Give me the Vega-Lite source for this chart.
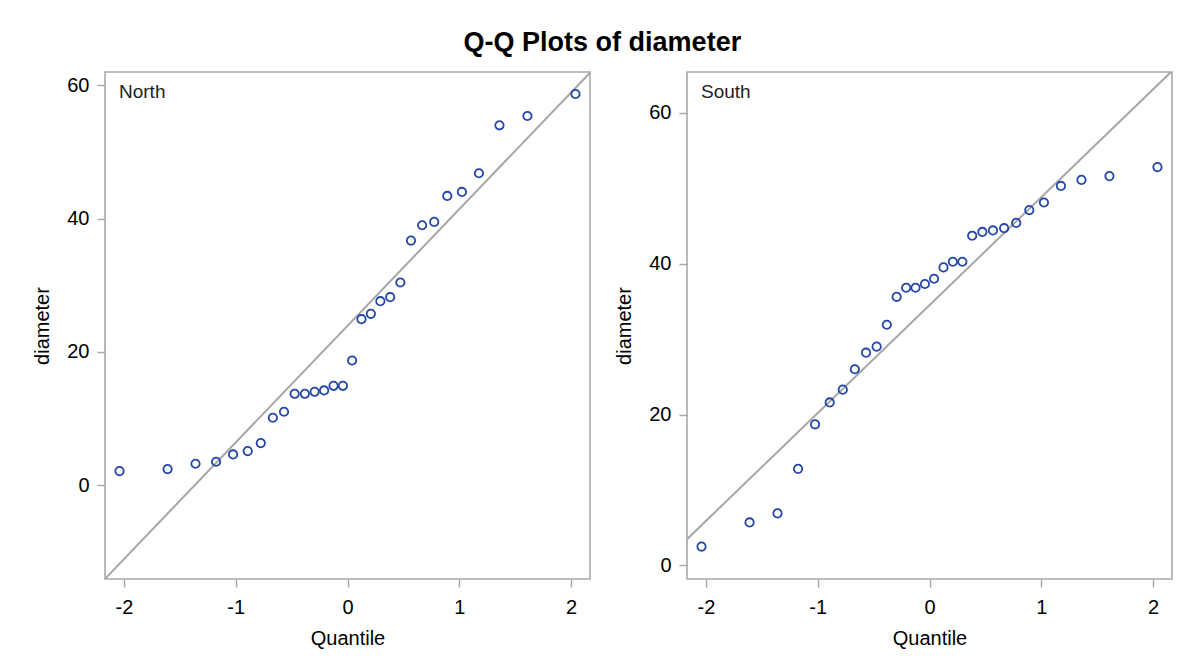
{
  "$schema": "https://vega.github.io/schema/vega-lite/v6.json",
  "padding": {"left": 31, "top": 29, "right": 5, "bottom": 5},
  "background": "white",
  "title": {"text": "Q-Q Plots of diameter", "fontSize": 27, "font": "Liberation Sans", "fontWeight": "bold", "color": "#000000", "anchor": "middle", "offset": 14},
  "datasets": {
    "qq": [
      {"region": "North", "quantile": 2.040, "diameter": 58.7},
      {"region": "North", "quantile": 1.610, "diameter": 55.4},
      {"region": "North", "quantile": 1.360, "diameter": 54.0},
      {"region": "North", "quantile": 1.176, "diameter": 46.8},
      {"region": "North", "quantile": 1.024, "diameter": 44.0},
      {"region": "North", "quantile": 0.893, "diameter": 43.4},
      {"region": "North", "quantile": 0.776, "diameter": 39.5},
      {"region": "North", "quantile": 0.668, "diameter": 39.0},
      {"region": "North", "quantile": 0.568, "diameter": 36.7},
      {"region": "North", "quantile": 0.473, "diameter": 30.4},
      {"region": "North", "quantile": 0.382, "diameter": 28.2},
      {"region": "North", "quantile": 0.294, "diameter": 27.6},
      {"region": "North", "quantile": 0.209, "diameter": 25.7},
      {"region": "North", "quantile": 0.125, "diameter": 24.9},
      {"region": "North", "quantile": 0.041, "diameter": 18.7},
      {"region": "North", "quantile": -0.041, "diameter": 14.9},
      {"region": "North", "quantile": -0.125, "diameter": 14.9},
      {"region": "North", "quantile": -0.209, "diameter": 14.2},
      {"region": "North", "quantile": -0.294, "diameter": 14.0},
      {"region": "North", "quantile": -0.382, "diameter": 13.7},
      {"region": "North", "quantile": -0.473, "diameter": 13.7},
      {"region": "North", "quantile": -0.568, "diameter": 11.0},
      {"region": "North", "quantile": -0.668, "diameter": 10.1},
      {"region": "North", "quantile": -0.776, "diameter": 6.3},
      {"region": "North", "quantile": -0.893, "diameter": 5.1},
      {"region": "North", "quantile": -1.024, "diameter": 4.6},
      {"region": "North", "quantile": -1.176, "diameter": 3.5},
      {"region": "North", "quantile": -1.360, "diameter": 3.2},
      {"region": "North", "quantile": -1.610, "diameter": 2.4},
      {"region": "North", "quantile": -2.040, "diameter": 2.1},
      {"region": "South", "quantile": 2.040, "diameter": 52.8},
      {"region": "South", "quantile": 1.610, "diameter": 51.6},
      {"region": "South", "quantile": 1.360, "diameter": 51.1},
      {"region": "South", "quantile": 1.176, "diameter": 50.3},
      {"region": "South", "quantile": 1.024, "diameter": 48.1},
      {"region": "South", "quantile": 0.893, "diameter": 47.1},
      {"region": "South", "quantile": 0.776, "diameter": 45.4},
      {"region": "South", "quantile": 0.668, "diameter": 44.7},
      {"region": "South", "quantile": 0.568, "diameter": 44.4},
      {"region": "South", "quantile": 0.473, "diameter": 44.2},
      {"region": "South", "quantile": 0.382, "diameter": 43.7},
      {"region": "South", "quantile": 0.294, "diameter": 40.25},
      {"region": "South", "quantile": 0.209, "diameter": 40.25},
      {"region": "South", "quantile": 0.125, "diameter": 39.5},
      {"region": "South", "quantile": 0.041, "diameter": 38.0},
      {"region": "South", "quantile": -0.041, "diameter": 37.3},
      {"region": "South", "quantile": -0.125, "diameter": 36.8},
      {"region": "South", "quantile": -0.209, "diameter": 36.8},
      {"region": "South", "quantile": -0.294, "diameter": 35.6},
      {"region": "South", "quantile": -0.382, "diameter": 31.9},
      {"region": "South", "quantile": -0.473, "diameter": 29.0},
      {"region": "South", "quantile": -0.568, "diameter": 28.2},
      {"region": "South", "quantile": -0.668, "diameter": 26.0},
      {"region": "South", "quantile": -0.776, "diameter": 23.3},
      {"region": "South", "quantile": -0.893, "diameter": 21.6},
      {"region": "South", "quantile": -1.024, "diameter": 18.7},
      {"region": "South", "quantile": -1.176, "diameter": 12.8},
      {"region": "South", "quantile": -1.360, "diameter": 6.9},
      {"region": "South", "quantile": -1.610, "diameter": 5.7},
      {"region": "South", "quantile": -2.040, "diameter": 2.5}
    ],
    "ref": [
      {"region": "North", "quantile": -2.17, "diameter": -14.08},
      {"region": "North", "quantile": 2.17, "diameter": 61.88},
      {"region": "South", "quantile": -2.17, "diameter": 3.47},
      {"region": "South", "quantile": 2.17, "diameter": 65.53}
    ]
  },
  "spacing": 22,
  "hconcat": [
    {
      "width": 485,
      "height": 507,
      "layer": [
        {
          "data": {"name": "ref"},
          "transform": [{"filter": "datum.region === 'North'"}],
          "mark": {"type": "line", "color": "#a6a6a6", "strokeWidth": 2, "clip": true},
          "encoding": {
            "x": {"field": "quantile", "type": "quantitative"},
            "y": {"field": "diameter", "type": "quantitative"}
          }
        },
        {
          "data": {"name": "qq"},
          "transform": [{"filter": "datum.region === 'North'"}],
          "mark": {"type": "point", "shape": "circle", "filled": false, "color": "#2346a8", "strokeWidth": 1.8, "size": 70, "opacity": 1},
          "encoding": {
            "x": {"field": "quantile", "type": "quantitative", "title": "Quantile", "scale": {"domain": [-2.17, 2.17], "nice": false, "zero": false}, "axis": {"values": [-2, -1, 0, 1, 2], "labelExpr": "datum.value < 0 ? '-' + abs(datum.value) : '' + datum.value", "labelPadding": 10, "titlePadding": 11}},
            "y": {"field": "diameter", "type": "quantitative", "title": "diameter", "scale": {"domain": [-14.1, 62.0], "nice": false, "zero": false}, "axis": {"values": [0, 20, 40, 60], "titlePadding": 14}}
          }
        },
        {
          "data": {"values": [{"label": "North"}]},
          "mark": {"type": "text", "align": "left", "baseline": "top", "dx": 14, "dy": 11, "fontSize": 19, "font": "Liberation Sans", "color": "#222222"},
          "encoding": {
            "x": {"datum": -2.17, "type": "quantitative"},
            "y": {"datum": 62.0, "type": "quantitative"},
            "text": {"field": "label"}
          }
        }
      ]
    },
    {
      "width": 485,
      "height": 507,
      "layer": [
        {
          "data": {"name": "ref"},
          "transform": [{"filter": "datum.region === 'South'"}],
          "mark": {"type": "line", "color": "#a6a6a6", "strokeWidth": 2, "clip": true},
          "encoding": {
            "x": {"field": "quantile", "type": "quantitative"},
            "y": {"field": "diameter", "type": "quantitative"}
          }
        },
        {
          "data": {"name": "qq"},
          "transform": [{"filter": "datum.region === 'South'"}],
          "mark": {"type": "point", "shape": "circle", "filled": false, "color": "#2346a8", "strokeWidth": 1.8, "size": 70, "opacity": 1},
          "encoding": {
            "x": {"field": "quantile", "type": "quantitative", "title": "Quantile", "scale": {"domain": [-2.17, 2.17], "nice": false, "zero": false}, "axis": {"values": [-2, -1, 0, 1, 2], "labelExpr": "datum.value < 0 ? '-' + abs(datum.value) : '' + datum.value", "labelPadding": 10, "titlePadding": 11}},
            "y": {"field": "diameter", "type": "quantitative", "title": "diameter", "scale": {"domain": [-1.8, 65.4], "nice": false, "zero": false}, "axis": {"values": [0, 20, 40, 60], "titlePadding": 14}}
          }
        },
        {
          "data": {"values": [{"label": "South"}]},
          "mark": {"type": "text", "align": "left", "baseline": "top", "dx": 14, "dy": 11, "fontSize": 19, "font": "Liberation Sans", "color": "#222222"},
          "encoding": {
            "x": {"datum": -2.17, "type": "quantitative"},
            "y": {"datum": 65.4, "type": "quantitative"},
            "text": {"field": "label"}
          }
        }
      ]
    }
  ],
  "config": {
    "view": {"stroke": "#a8a8a8", "strokeWidth": 1.6},
    "axis": {
      "grid": false,
      "domain": false,
      "tickColor": "#a8a8a8",
      "tickWidth": 1.5,
      "tickSize": 8,
      "labelFont": "Liberation Sans",
      "labelFontSize": 20,
      "labelColor": "#000000",
      "labelPadding": 8,
      "titleFont": "Liberation Sans",
      "titleFontSize": 20,
      "titleFontWeight": "normal",
      "titleColor": "#000000",
      "titlePadding": 10
    }
  }
}
